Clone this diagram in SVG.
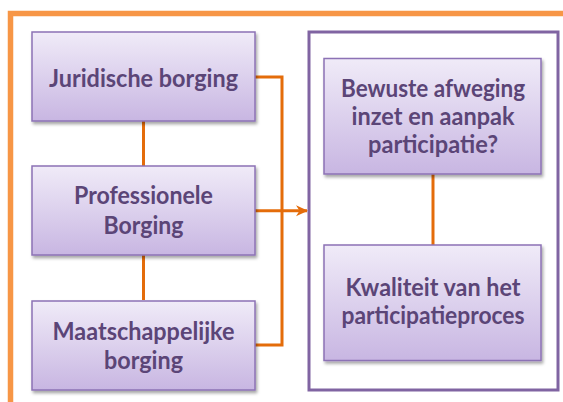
<svg xmlns="http://www.w3.org/2000/svg" width="563" height="402" viewBox="0 0 563 402">
<defs>
<linearGradient id="g" x1="0" y1="0" x2="0" y2="1">
<stop offset="0" stop-color="#f0ebf8"/>
<stop offset="1" stop-color="#c8b6e2"/>
</linearGradient>
<filter id="sh" x="-10%" y="-10%" width="125%" height="130%">
<feDropShadow dx="1.5" dy="2.5" stdDeviation="1.8" flood-color="#000" flood-opacity="0.35"/>
</filter>
<marker id="ah" viewBox="0 0 12 12" refX="11" refY="6" markerWidth="12" markerHeight="12" markerUnits="userSpaceOnUse" orient="auto">
<path d="M0,0.5 L12,6 L0,11.5 L3.5,6 Z" fill="#e46c0a"/>
</marker>
</defs>
<style>
.frame{fill:none;stroke:#f79646;stroke-width:5.5}
.outer{fill:#fff;stroke:#8064a2;stroke-width:3}
.node rect{fill:url(#g);stroke:#8c72b5;stroke-width:1.5;filter:url(#sh)}
.node text{font-family:Lato,"Open Sans","Liberation Sans",sans-serif;font-weight:bold;font-size:24px;fill:#5b4577;text-anchor:middle}
.conn{fill:none;stroke:#e46c0a;stroke-width:3}
</style>
<rect width="563" height="402" fill="#fff"/>
<path class="frame" d="M10.5,402 V13.5 H563"/>
<rect id="container" class="outer" x="309" y="32" width="249" height="358"/>
<g id="connectors">
<path class="conn" d="M143.5,121 V300"/>
<path class="conn" d="M255,77 H282 V345 H255"/>
<path class="conn" d="M255,210.7 H307" marker-end="url(#ah)"/>
<path class="conn" d="M433,174 V245"/>
</g>
<g id="juridische" class="node">
<rect x="32" y="32" width="223" height="89"/>
<text x="143.5" y="86.5" textLength="189" lengthAdjust="spacingAndGlyphs">Juridische borging</text>
</g>
<g id="professionele" class="node">
<rect x="32" y="166" width="223" height="89"/>
<text x="143.5" y="204" textLength="139" lengthAdjust="spacingAndGlyphs">Professionele</text>
<text x="143.5" y="233.5" textLength="80" lengthAdjust="spacingAndGlyphs">Borging</text>
</g>
<g id="maatschappelijke" class="node">
<rect x="32" y="301" width="223" height="89"/>
<text x="143.5" y="339.5" textLength="182" lengthAdjust="spacingAndGlyphs">Maatschappelijke</text>
<text x="143.5" y="368.5" textLength="79" lengthAdjust="spacingAndGlyphs">borging</text>
</g>
<g id="bewuste" class="node">
<rect x="324" y="58.5" width="217" height="115.5"/>
<text x="433" y="96.5" textLength="184" lengthAdjust="spacingAndGlyphs">Bewuste afweging</text>
<text x="433" y="125" textLength="163" lengthAdjust="spacingAndGlyphs">inzet en aanpak</text>
<text x="433" y="153" textLength="130" lengthAdjust="spacingAndGlyphs">participatie?</text>
</g>
<g id="kwaliteit" class="node">
<rect x="324" y="245" width="217" height="115.5"/>
<text x="433" y="296" textLength="175" lengthAdjust="spacingAndGlyphs">Kwaliteit van het</text>
<text x="433" y="324" textLength="183" lengthAdjust="spacingAndGlyphs">participatieproces</text>
</g>
</svg>
